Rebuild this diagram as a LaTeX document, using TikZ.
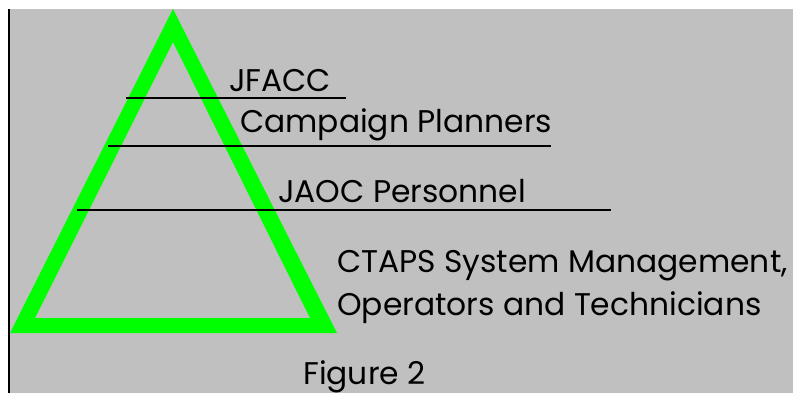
\documentclass[tikz,border=0pt]{standalone}
\usepackage{fontspec}
\setmainfont{Poppins}
\usepackage{tikz}

\definecolor{panelgray}{RGB}{192,192,192}
\definecolor{pyrgreen}{RGB}{0,255,0}

\tikzset{
	level/.style={anchor=base west, inner sep=0pt, font=\fontsize{23.5}{28}\selectfont},
	rung/.style={black, line width=1.4}
}

\begin{document}
\begin{tikzpicture}[x=0.75pt, y=-0.75pt]
	% Background
	\useasboundingbox (0,0) rectangle (793,393);
	\fill[white] (0,0) rectangle (793,393);
	\fill[panelgray] (9,9) rectangle (793,393);
	\draw[black, line width=1.6] (9,9) -- (9,393);

	% Define pyramid
	\fill[pyrgreen, even odd rule]
		(173,9) -- (10,333) -- (337,333) -- cycle
		(173,42) -- (35,318) -- (310,318) -- cycle;

	% Define levels
	\node [level] (jfacc) at (229,91) {JFACC};
	\node [level] (plan) at (240,132) {Campaign Planners};
	\node [level] (jaoc) at (278,202) {JAOC Personnel};
	\node [level] (ctaps) at (337,272) {CTAPS System Management,};
	\node [level] (oper) at (337,315) {Operators and Technicians};
	\node [level] (fig) at (303,384) {Figure 2};

	% Draw dividing lines
	\coordinate (l1a) at (126,98);  \coordinate (l1b) at (346,98);
	\coordinate (l2a) at (108,146); \coordinate (l2b) at (551,146);
	\coordinate (l3a) at (77,210);  \coordinate (l3b) at (611,210);
	\draw [rung] (l1a) -- (l1b);
	\draw [rung] (l2a) -- (l2b);
	\draw [rung] (l3a) -- (l3b);
\end{tikzpicture}
\end{document}
